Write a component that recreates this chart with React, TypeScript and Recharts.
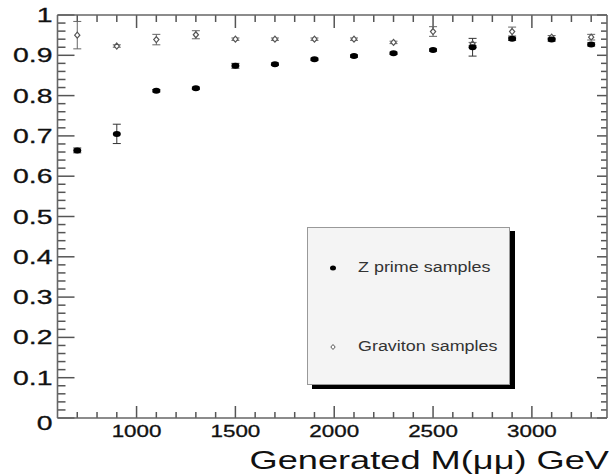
import { ScatterChart, Scatter, XAxis, YAxis, ErrorBar, Legend, ReferenceLine } from 'recharts';

// generated dimuon mass (GeV)
const masses = [700, 900, 1100, 1300, 1500, 1700, 1900, 2100, 2300, 2500, 2700, 2900, 3100, 3300];

const zprimeEff = [0.664, 0.705, 0.812, 0.818, 0.874, 0.878, 0.890, 0.898, 0.905, 0.913, 0.920, 0.941, 0.939, 0.927];
const zprimeErr = [0.006, 0.024, 0.003, 0.003, 0.006, 0.003, 0.003, 0.003, 0.003, 0.003, 0.022, 0.004, 0.004, 0.004];

const gravitonEff = [0.950, 0.923, 0.939, 0.951, 0.940, 0.940, 0.940, 0.940, 0.932, 0.959, 0.928, 0.959, 0.945, 0.945];
const gravitonErr = [0.034, 0.003, 0.013, 0.010, 0.003, 0.003, 0.003, 0.003, 0.003, 0.012, 0.004, 0.011, 0.004, 0.007];

const xTicks = [
  700, 800, 900, 1000, 1100, 1200, 1300, 1400, 1500, 1600, 1700, 1800, 1900, 2000,
  2100, 2200, 2300, 2400, 2500, 2600, 2700, 2800, 2900, 3000, 3100, 3200, 3300,
];
const xMajor = [1000, 1500, 2000, 2500, 3000];

const yTicks = [
  0, 0.02, 0.04, 0.06, 0.08, 0.1, 0.12, 0.14, 0.16, 0.18, 0.2, 0.22, 0.24, 0.26, 0.28,
  0.3, 0.32, 0.34, 0.36, 0.38, 0.4, 0.42, 0.44, 0.46, 0.48, 0.5, 0.52, 0.54, 0.56, 0.58,
  0.6, 0.62, 0.64, 0.66, 0.68, 0.7, 0.72, 0.74, 0.76, 0.78, 0.8, 0.82, 0.84, 0.86, 0.88,
  0.9, 0.92, 0.94, 0.96, 0.98, 1,
];
const yMajor = [0, 0.1, 0.2, 0.3, 0.4, 0.5, 0.6, 0.7, 0.8, 0.9, 1];

const legendItems = ['Z prime samples', 'Graviton samples'];

const zprimeData = masses.map((m, i) => ({ x: m, y: zprimeEff[i], err: zprimeErr[i] }));
const gravitonData = masses.map((m, i) => ({ x: m, y: gravitonEff[i], err: gravitonErr[i] }));

const FONT = '"Liberation Sans", Arial, Helvetica, sans-serif';
const AXIS = '#666';
const TICK = '#555';

const X_MIN = 600;
const X_MAX = 3380;
// plot area is 549.5 x 403 px, used to turn tick lengths (px) into data units
const X_PER_PX = (X_MAX - X_MIN) / 549.5;
const Y_PER_PX = 1 / 403;

const isMajorY = (v: number) => yMajor.some((m) => Math.abs(m - v) < 1e-6);

// inward tick marks on all four sides of the frame
const tickMarks = [
  ...xTicks.map((v) => {
    const len = xMajor.includes(v) ? 12 : 6;
    return [{ x: v, y: 0 }, { x: v, y: len * Y_PER_PX }];
  }),
  ...xTicks.map((v) => {
    const len = xMajor.includes(v) ? 13 : 7;
    return [{ x: v, y: 1 }, { x: v, y: 1 - len * Y_PER_PX }];
  }),
  ...yTicks.map((v) => {
    const len = isMajorY(v) ? 17 : 8;
    return [{ x: X_MIN, y: v }, { x: X_MIN + len * X_PER_PX, y: v }];
  }),
  ...yTicks.map((v) => {
    const len = isMajorY(v) ? 10 : 6;
    return [{ x: X_MAX, y: v }, { x: X_MAX - len * X_PER_PX, y: v }];
  }),
];

const BottomTick = (props: any) => {
  const { x, y, payload } = props;
  if (!xMajor.includes(payload.value)) return <g />;
  return (
    <text
      transform={`translate(${x}, ${y + 19}) scale(1.4, 1)`}
      textAnchor="middle"
      fontFamily={FONT}
      fontSize={16}
      fill="#111"
      stroke="#111"
      strokeWidth={0.3}
    >
      {payload.value}
    </text>
  );
};

const LeftTick = (props: any) => {
  const { x, y, payload } = props;
  const v = payload.value;
  if (!isMajorY(v)) return <g />;
  const label = v === 0 ? '0' : v === 1 ? '1' : v.toFixed(1);
  return (
    <text
      transform={`translate(${x - 5}, ${y + (v === 0 ? 12 : 7)}) scale(1.42, 1)`}
      textAnchor="end"
      fontFamily={FONT}
      fontSize={20}
      fill="#111"
      stroke="#111"
      strokeWidth={0.3}
    >
      {label}
    </text>
  );
};

const Dot = ({ cx, cy }: any) => <ellipse cx={cx} cy={cy} rx={4} ry={3} fill="#000" />;

const Diamond = ({ cx, cy }: any) => (
  <path
    d={`M${cx},${cy - 3} L${cx + 2.6},${cy} L${cx},${cy + 3} L${cx - 2.6},${cy} Z`}
    fill="#fff"
    stroke="#555"
    strokeWidth={1.2}
  />
);

const LegendBox = () => (
  <div
    style={{
      width: 203,
      height: 158,
      boxSizing: 'border-box',
      background: '#f4f4f4',
      border: '1px solid #999',
      boxShadow: '5px 4px 0 #000',
      position: 'relative',
      fontFamily: FONT,
    }}
  >
    {legendItems.map((name, i) => (
      <div key={name} style={{ position: 'absolute', left: 0, top: i === 0 ? 40 : 119, width: '100%' }}>
        <svg width={14} height={10} style={{ position: 'absolute', left: 18, top: -5 }}>
          {i === 0 ? (
            <ellipse cx={7} cy={5} rx={3} ry={2.5} fill="#000" />
          ) : (
            <path d="M7,2.5 L9.2,5 L7,7.5 L4.8,5 Z" fill="#fff" stroke="#555" strokeWidth={1} />
          )}
        </svg>
        <span
          style={{
            position: 'absolute',
            left: 50,
            top: -9,
            fontSize: 14,
            lineHeight: '16px',
            color: '#333',
            whiteSpace: 'nowrap',
            transform: 'scaleX(1.28)',
            transformOrigin: 'left center',
          }}
        >
          {name}
        </span>
      </div>
    ))}
  </div>
);

export default function App() {
  return (
    <div style={{ position: 'absolute', left: 0, top: 0, width: 612, height: 476, background: '#fff' }}>
      <ScatterChart width={612} height={476} margin={{ top: 14, right: 4, bottom: 57, left: 56.5 }}>
        <XAxis
          xAxisId={0}
          type="number"
          dataKey="x"
          domain={[X_MIN, X_MAX]}
          allowDataOverflow
          ticks={xTicks}
          interval={0}
          height={1}
          tickSize={0}
          tickMargin={0}
          tick={BottomTick}
          axisLine={{ stroke: AXIS, strokeWidth: 1.6 }}
          tickLine={false}
        />
        <XAxis
          xAxisId="top"
          orientation="top"
          type="number"
          domain={[X_MIN, X_MAX]}
          allowDataOverflow
          height={1}
          tick={false}
          axisLine={{ stroke: AXIS, strokeWidth: 1.6 }}
          tickLine={false}
        />
        <YAxis
          yAxisId={0}
          type="number"
          dataKey="y"
          domain={[0, 1]}
          allowDataOverflow
          ticks={yTicks}
          interval={0}
          width={1}
          tickSize={0}
          tickMargin={0}
          tick={LeftTick}
          axisLine={{ stroke: AXIS, strokeWidth: 1.6 }}
          tickLine={false}
        />
        <YAxis
          yAxisId="right"
          orientation="right"
          type="number"
          domain={[0, 1]}
          allowDataOverflow
          width={1}
          tick={false}
          axisLine={{ stroke: AXIS, strokeWidth: 1.6 }}
          tickLine={false}
        />
        {tickMarks.map((seg, i) => (
          // eslint-disable-next-line react/no-array-index-key
          <ReferenceLine key={i} segment={seg} ifOverflow="visible" stroke={TICK} strokeWidth={1.5} />
        ))}
        <Scatter name="Graviton samples" data={gravitonData} shape={<Diamond />} isAnimationActive={false}>
          <ErrorBar dataKey="err" direction="y" width={4} stroke="#666" strokeWidth={1} />
        </Scatter>
        <Scatter name="Z prime samples" data={zprimeData} shape={<Dot />} isAnimationActive={false}>
          <ErrorBar dataKey="err" direction="y" width={4} stroke="#333" strokeWidth={1} />
        </Scatter>
        <Legend
          layout="vertical"
          align="center"
          verticalAlign="middle"
          content={<LegendBox />}
          wrapperStyle={{ left: 307, top: 227, width: 203, height: 158 }}
        />
        <text
          transform="translate(609, 469) scale(1.42, 1)"
          textAnchor="end"
          fontFamily={FONT}
          fontSize={25.5}
          fill="#111"
        >
          Generated M(μμ) GeV
        </text>
      </ScatterChart>
    </div>
  );
}
